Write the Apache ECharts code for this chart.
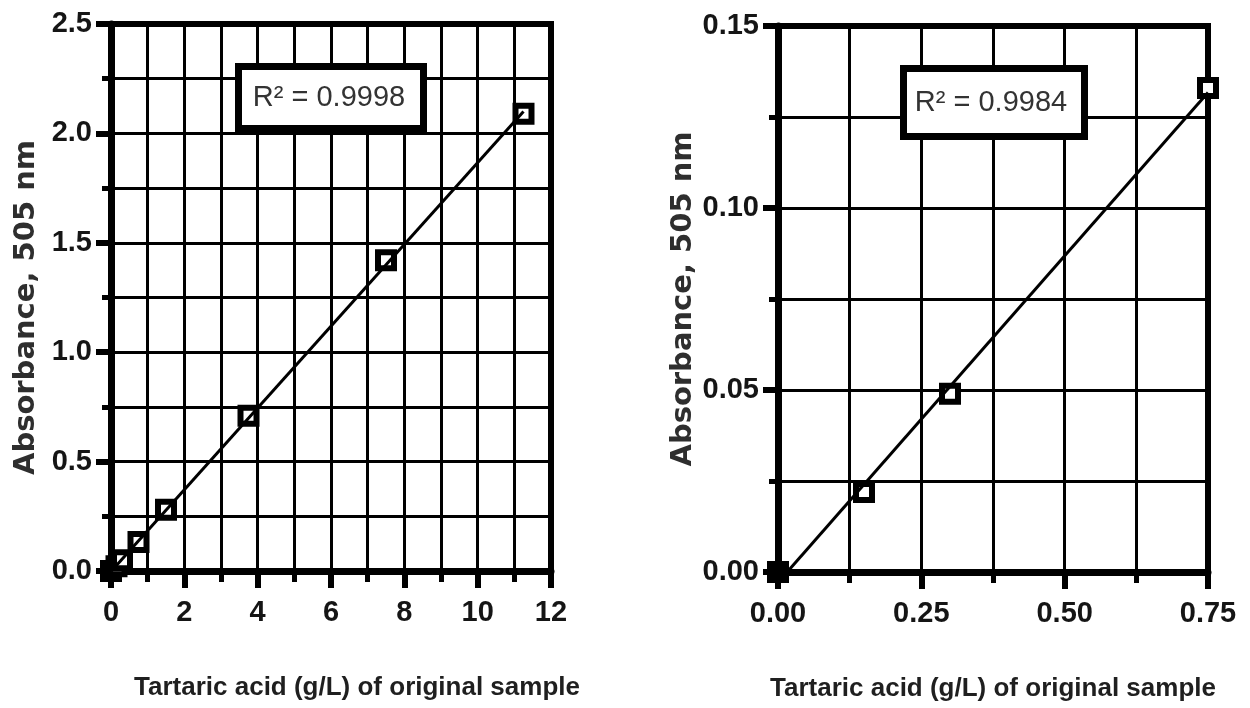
<!DOCTYPE html>
<html>
<head>
<meta charset="utf-8">
<script src="https://cdn.jsdelivr.net/npm/echarts@6/dist/echarts.min.js"></script>
<style>
html,body{margin:0;padding:0;background:#fff;}
#c{width:1250px;height:708px;}
</style>
</head>
<body>
<div id="c"></div>
<script>
// ---- data ----
const leftX = [0, 0.15, 0.3, 0.75, 1.5, 3.75, 7.5, 11.25];
const leftY = [0, 0.022, 0.049, 0.133, 0.28, 0.71, 1.42, 2.09];
const leftFitX = [0, 11.25];
const leftFitY = [-0.002, 2.10];
const leftR2 = 'R² = 0.9998';

const rightX = [0, 0.15, 0.3, 0.75];
const rightY = [0, 0.022, 0.049, 0.133];
const rightFitX = [0.016, 0.75];
const rightFitY = [0, 0.1317];
const rightR2 = 'R² = 0.9984';

const xTitle = 'Tartaric acid (g/L) of original sample';
const yTitle = 'Absorbance, 505 nm';

// ---- helpers ----
const pairs = (xs, ys) => xs.map((x, i) => [x, ys[i]]);
const scatterData = (xs, ys) => xs.map((x, i) => {
  const d = { value: [x, ys[i]] };
  if (x === 0 && ys[i] === 0) d.itemStyle = { color: '#000' };
  return d;
});

const tickFont = { fontFamily: 'Liberation Sans, Arial, sans-serif', fontWeight: 'bold', fontSize: 29, color: '#151515' };
const lineBlack = (w) => ({ lineStyle: { color: '#000', width: w } });

function xAxisCfg(gi, min, max, interval, fmt, padLeft, gap) {
  return {
    gridIndex: gi, type: 'value', min, max, interval,
    name: xTitle, nameLocation: 'middle', nameGap: gap,
    nameTextStyle: { fontFamily: 'Liberation Sans, Arial, sans-serif', fontWeight: 'bold', fontSize: 26, color: '#1f1f1f', padding: [0, 0, 0, padLeft] },
    axisLine: { show: true, onZero: false, lineStyle: { color: '#000', width: 7 } },
    axisTick: { show: true, length: 17, lineStyle: { color: '#000', width: 6 } },
    minorTick: { show: true, splitNumber: 2, length: 11, lineStyle: { color: '#000', width: 5 } },
    splitLine: { show: true, lineStyle: { color: '#000', width: 3 } },
    minorSplitLine: { show: true, lineStyle: { color: '#000', width: 3 } },
    axisLabel: Object.assign({ margin: 27, formatter: fmt, showMinLabel: true, showMaxLabel: true }, tickFont)
  };
}
function yAxisCfg(gi, min, max, interval, fmt, gap, shift) {
  return {
    gridIndex: gi, type: 'value', min, max, interval,
    name: yTitle, nameLocation: 'middle', nameGap: gap, nameRotate: 90,
    nameTextStyle: { fontFamily: 'DejaVu Sans, sans-serif', fontWeight: 'bold', fontSize: 29, color: '#2e2e2e', padding: [0, shift, 0, 0] },
    axisLine: { show: true, onZero: false, lineStyle: { color: '#000', width: 7 } },
    axisTick: { show: true, length: 15, lineStyle: { color: '#000', width: 6 } },
    minorTick: { show: true, splitNumber: 2, length: 9, lineStyle: { color: '#000', width: 5 } },
    splitLine: { show: true, lineStyle: { color: '#000', width: 3 } },
    minorSplitLine: { show: true, lineStyle: { color: '#000', width: 3 } },
    axisLabel: Object.assign({ margin: 19, formatter: fmt, showMinLabel: true, showMaxLabel: true }, tickFont)
  };
}

const chart = echarts.init(document.getElementById('c'), null, { renderer: 'canvas' });
chart.setOption({
  backgroundColor: '#fff',
  animation: false,
  grid: [
    { left: 111, top: 24, width: 440, height: 547, show: true, borderColor: '#000', borderWidth: 6, backgroundColor: 'transparent' },
    { left: 778, top: 26, width: 430, height: 546, show: true, borderColor: '#000', borderWidth: 6, backgroundColor: 'transparent' }
  ],
  xAxis: [
    xAxisCfg(0, 0, 12, 2, v => String(v), 52, 104),
    xAxisCfg(1, 0, 0.75, 0.25, v => v.toFixed(2), 0, 104)
  ],
  yAxis: [
    yAxisCfg(0, 0, 2.5, 0.5, v => v.toFixed(1), 70, 20),
    yAxisCfg(1, 0, 0.15, 0.05, v => v.toFixed(2), 80, 0)
  ],
  series: [
    { type: 'scatter', xAxisIndex: 0, yAxisIndex: 0, symbol: 'rect', symbolSize: 16, z: 3,
      itemStyle: { color: '#fff', borderColor: '#000', borderWidth: 6, opacity: 1 },
      data: scatterData(leftX, leftY) },
    { type: 'line', xAxisIndex: 0, yAxisIndex: 0, symbol: 'none', z: 4, ...lineBlack(3),
      data: pairs(leftFitX, leftFitY) },
    { type: 'scatter', xAxisIndex: 1, yAxisIndex: 1, symbol: 'rect', symbolSize: 16, z: 3,
      itemStyle: { color: '#fff', borderColor: '#000', borderWidth: 6, opacity: 1 },
      data: scatterData(rightX, rightY) },
    { type: 'line', xAxisIndex: 1, yAxisIndex: 1, symbol: 'none', z: 4, ...lineBlack(3),
      data: pairs(rightFitX, rightFitY) }
  ],
  graphic: [
    { type: 'rect', z: 10, shape: { x: 238.5, y: 66.5, width: 185, height: 62 },
      style: { fill: '#fff', stroke: '#000', lineWidth: 7 } },
    { type: 'text', z: 11, x: 329, y: 98,
      style: { text: leftR2, fill: '#333', font: '29px "Liberation Sans", Arial, sans-serif', align: 'center', verticalAlign: 'middle' } },
    { type: 'rect', z: 10, shape: { x: 903.5, y: 68.5, width: 181, height: 68 },
      style: { fill: '#fff', stroke: '#000', lineWidth: 7 } },
    { type: 'text', z: 11, x: 991, y: 103,
      style: { text: rightR2, fill: '#333', font: '29px "Liberation Sans", Arial, sans-serif', align: 'center', verticalAlign: 'middle' } }
  ]
});
</script>
</body>
</html>
